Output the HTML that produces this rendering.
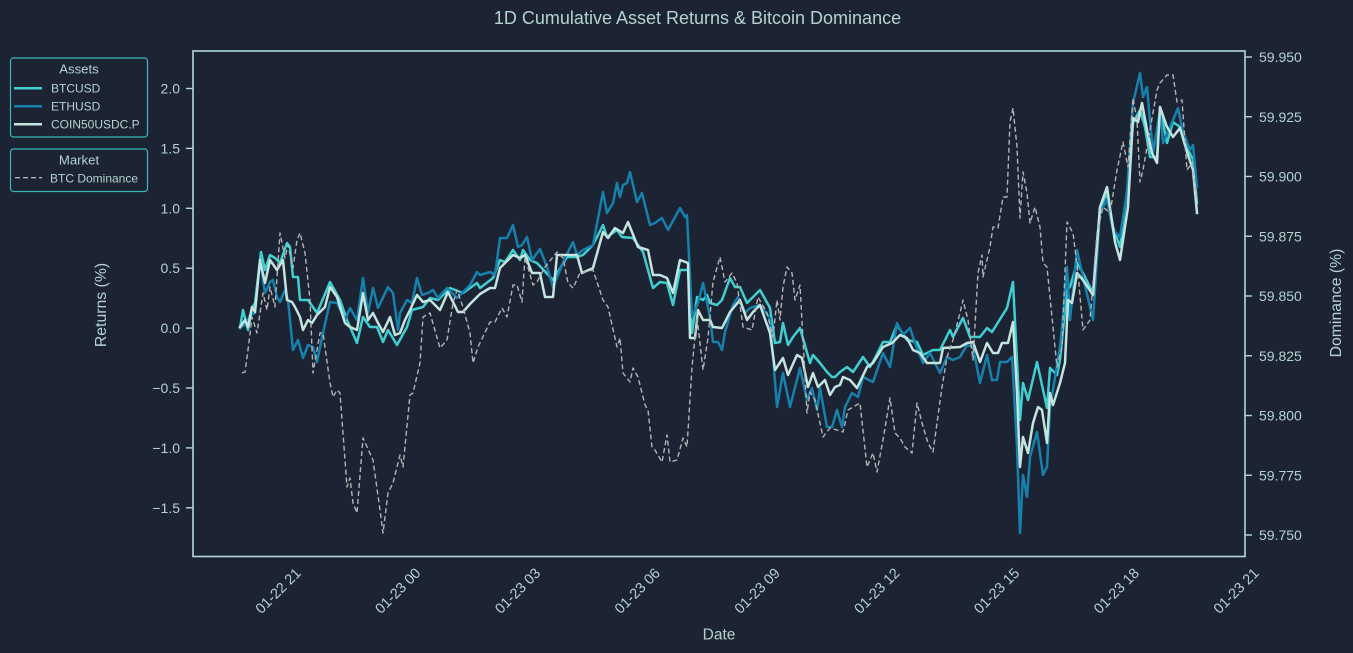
<!DOCTYPE html>
<html><head><meta charset="utf-8"><style>
html,body{margin:0;padding:0;background:#1c2333;}
svg{display:block;}
text{font-family:"Liberation Sans",Arial,sans-serif;fill:#b2d3cf;}
</style></head><body>
<svg width="1353" height="653" viewBox="0 0 1353 653" xmlns="http://www.w3.org/2000/svg">
<rect x="0" y="0" width="1353" height="653" fill="#1c2333"/>
<text x="697.5" y="24" font-size="18" text-anchor="middle">1D Cumulative Asset Returns &amp; Bitcoin Dominance</text>

<!-- series -->
<g fill="none" stroke-linejoin="round" stroke-linecap="square">
<polyline stroke="#3fcfd0" stroke-width="2.5" points="240,328 243,310 248,330 252,308 255,303 261,252 265,270 270,255 275,258 280,263 287,243 290,247 293,277 298,277 300,300 308,300 317,313 330,282 340,300 347,320 357,343 363,317 370,327 377,327 383,342 388,330 397,345 407,327 412,310 423,307 430,298 438,300 450,288 463,293 470,288 477,283 480,288 493,278 500,260 505,262 513,250 520,260 523,250 530,260 537,263 553,280 567,257 577,257 583,255 593,245 603,225 607,237 617,230 622,237 633,238 643,252 653,288 660,282 667,283 673,305 680,270 688,270 692,333 697,297 703,300 707,295 710,303 717,305 722,300 730,278 735,287 740,287 747,303 760,290 770,308 775,343 780,342 783,323 788,345 793,337 800,328 810,363 813,355 820,363 827,372 832,377 835,377 840,372 847,367 853,372 863,357 870,367 875,358 883,342 890,342 897,325 907,340 917,342 923,355 933,350 940,350 950,330 953,337 963,318 970,337 980,337 987,328 992,332 1007,308 1013,282 1020,420 1023,383 1028,400 1037,362 1047,408 1050,368 1057,375 1060,360 1067,290 1070,287 1077,263 1083,273 1093,293 1100,208 1107,193 1113,227 1120,247 1127,192 1133,123 1140,110 1145,127 1150,157 1157,157 1160,107 1167,143 1173,122 1180,127 1187,147 1193,160 1197,203"/>
<polyline stroke="#1681ab" stroke-width="2.5" points="240,328 247,323 250,315 255,313 260,260 265,293 270,282 273,280 277,297 280,302 285,290 288,300 293,350 298,340 303,358 308,345 313,347 317,362 323,333 330,302 337,303 345,320 350,308 357,320 363,278 368,313 373,288 378,308 388,287 393,293 398,330 400,313 407,300 412,303 417,278 422,295 428,293 433,290 438,298 447,288 457,298 470,285 477,272 480,275 490,272 495,275 500,238 507,238 513,225 518,247 522,245 527,237 532,260 540,249 547,267 553,287 565,258 573,242 577,255 583,250 593,245 603,192 607,213 613,203 617,183 620,197 623,185 627,183 630,172 637,202 642,193 650,225 655,223 662,218 668,230 680,208 685,217 687,215 692,317 698,303 703,283 710,317 713,342 718,342 722,350 725,332 733,305 738,297 745,313 750,308 760,305 770,318 777,407 783,373 790,407 800,368 807,400 812,388 817,410 820,388 827,427 832,427 837,410 842,427 845,407 852,393 858,397 863,377 873,382 883,353 890,367 897,323 903,335 910,328 915,343 923,363 930,353 940,373 947,357 953,360 960,357 967,345 973,347 980,383 987,355 992,380 997,380 1000,362 1007,362 1012,357 1017,447 1020,533 1023,475 1027,497 1030,457 1037,432 1043,475 1047,467 1050,408 1060,347 1063,317 1067,267 1070,320 1077,250 1083,277 1093,320 1100,212 1107,200 1113,230 1120,237 1127,192 1133,103 1140,73 1143,97 1147,87 1153,153 1160,110 1163,143 1173,120 1178,108 1183,132 1190,150 1193,145 1197,187"/>
<polyline stroke="#c3e4df" stroke-width="2.5" points="240,327 245,320 248,327 252,307 255,312 260,260 265,283 270,260 277,270 283,260 287,300 292,302 295,307 300,317 303,330 308,320 312,323 317,315 325,307 330,287 337,297 345,323 350,327 357,330 363,293 368,320 373,313 378,323 383,332 390,317 395,335 400,333 405,320 410,310 417,295 423,302 430,300 440,310 448,292 458,312 463,312 470,304 480,294 490,288 495,288 500,268 513,255 520,258 525,255 532,273 540,273 545,297 553,297 557,255 577,255 582,273 593,268 603,232 608,238 615,228 623,233 628,222 638,247 648,250 653,275 660,275 667,278 673,293 680,260 688,263 690,338 695,338 698,310 703,320 710,320 713,327 722,328 730,312 740,300 747,320 753,312 760,305 770,333 775,370 783,358 788,375 797,355 802,358 808,387 813,373 818,387 825,380 830,395 835,387 840,385 843,377 850,380 857,388 867,367 873,363 883,347 892,343 900,335 907,338 913,350 920,353 927,363 940,363 943,348 960,347 967,343 973,342 980,362 987,343 993,353 998,353 1002,343 1008,343 1013,322 1017,393 1020,467 1023,437 1028,453 1033,423 1038,407 1042,410 1047,443 1050,393 1053,405 1060,383 1065,363 1068,300 1072,303 1077,273 1083,280 1093,295 1100,207 1107,187 1115,242 1120,260 1128,207 1133,118 1138,122 1142,103 1147,130 1152,153 1157,163 1160,107 1167,127 1173,137 1180,128 1187,152 1193,170 1197,213"/>
<polyline stroke="#b4b4b4" stroke-width="1.4" stroke-dasharray="5,3" stroke-linecap="butt" points="242,373 245,372 248,350 252,317 257,333 263,293 267,310 270,287 275,307 280,233 285,258 288,245 293,268 297,240 300,233 305,253 310,300 313,373 320,333 323,333 330,383 333,397 337,390 340,393 347,487 350,478 353,503 357,513 363,438 373,460 380,510 383,533 388,493 393,483 400,455 403,467 410,395 413,393 420,363 423,317 430,313 440,348 447,340 453,303 457,290 463,307 470,333 473,363 478,347 490,322 495,322 502,308 507,317 513,285 517,285 522,302 525,257 533,285 537,282 545,267 557,252 563,258 568,283 573,288 580,273 593,270 603,300 608,307 617,347 620,338 623,373 630,382 633,368 638,377 645,405 648,410 652,447 655,450 662,462 667,435 670,462 677,460 683,438 687,447 692,367 697,317 703,370 708,338 713,282 720,257 725,282 732,273 737,283 743,327 752,330 758,297 767,313 773,337 777,300 780,320 783,287 787,267 792,273 795,300 800,285 807,413 810,392 815,400 823,437 830,428 837,430 843,432 848,410 860,403 867,467 873,453 877,472 883,440 890,398 895,433 900,438 905,447 912,453 917,403 922,423 928,443 933,452 942,387 947,357 953,340 960,313 963,300 968,320 973,360 978,273 982,255 983,277 990,247 993,227 998,228 1003,197 1007,197 1010,122 1013,108 1017,147 1020,218 1023,172 1027,193 1030,223 1035,207 1040,227 1043,263 1047,267 1057,367 1062,347 1067,222 1073,233 1078,273 1083,330 1090,320 1097,233 1103,207 1110,213 1117,170 1123,142 1128,167 1133,98 1137,120 1140,182 1143,170 1150,130 1157,90 1160,83 1167,75 1173,75 1177,102 1182,100 1187,170 1192,163 1197,200"/>
</g>

<!-- frame -->
<rect x="193" y="51" width="1052" height="505.5" fill="none" stroke="#b2dad3" stroke-width="1.6"/>

<!-- ticks -->
<g stroke="#b2dad3" stroke-width="1.4">
<line x1="186" y1="88.5" x2="193" y2="88.5"/>
<line x1="186" y1="148.4" x2="193" y2="148.4"/>
<line x1="186" y1="208.3" x2="193" y2="208.3"/>
<line x1="186" y1="268.2" x2="193" y2="268.2"/>
<line x1="186" y1="328.1" x2="193" y2="328.1"/>
<line x1="186" y1="388" x2="193" y2="388"/>
<line x1="186" y1="447.9" x2="193" y2="447.9"/>
<line x1="186" y1="507.8" x2="193" y2="507.8"/>
<line x1="1245" y1="57" x2="1252" y2="57"/>
<line x1="1245" y1="116.75" x2="1252" y2="116.75"/>
<line x1="1245" y1="176.5" x2="1252" y2="176.5"/>
<line x1="1245" y1="236.25" x2="1252" y2="236.25"/>
<line x1="1245" y1="296" x2="1252" y2="296"/>
<line x1="1245" y1="355.75" x2="1252" y2="355.75"/>
<line x1="1245" y1="415.5" x2="1252" y2="415.5"/>
<line x1="1245" y1="475.25" x2="1252" y2="475.25"/>
<line x1="1245" y1="535" x2="1252" y2="535"/>
</g>
<g font-size="14" text-anchor="end">
<text x="180" y="93.5">2.0</text>
<text x="180" y="153.4">1.5</text>
<text x="180" y="213.3">1.0</text>
<text x="180" y="273.2">0.5</text>
<text x="180" y="333.1">0.0</text>
<text x="180" y="393">−0.5</text>
<text x="180" y="452.9">−1.0</text>
<text x="180" y="512.8">−1.5</text>
</g>
<g font-size="14" text-anchor="start">
<text x="1259" y="62">59.950</text>
<text x="1259" y="121.75">59.925</text>
<text x="1259" y="181.5">59.900</text>
<text x="1259" y="241.25">59.875</text>
<text x="1259" y="301">59.850</text>
<text x="1259" y="360.75">59.825</text>
<text x="1259" y="420.5">59.800</text>
<text x="1259" y="480.25">59.775</text>
<text x="1259" y="540">59.750</text>
</g>

<!-- x tick labels -->
<g font-size="14.5" text-anchor="end">
<text transform="translate(301.8,574) rotate(-45)">01-22 21</text>
<text transform="translate(421.5,574) rotate(-45)">01-23 00</text>
<text transform="translate(541.3,574) rotate(-45)">01-23 03</text>
<text transform="translate(661,574) rotate(-45)">01-23 06</text>
<text transform="translate(780.8,574) rotate(-45)">01-23 09</text>
<text transform="translate(900.6,574) rotate(-45)">01-23 12</text>
<text transform="translate(1020.3,574) rotate(-45)">01-23 15</text>
<text transform="translate(1140.1,574) rotate(-45)">01-23 18</text>
<text transform="translate(1259.8,574) rotate(-45)">01-23 21</text>
</g>

<!-- axis labels -->
<text x="719" y="639.5" font-size="15.5" text-anchor="middle">Date</text>
<text transform="translate(106,305) rotate(-90)" font-size="15.8" text-anchor="middle">Returns (%)</text>
<text transform="translate(1341,303) rotate(-90)" font-size="15.8" text-anchor="middle">Dominance (%)</text>

<!-- legends -->
<rect x="10.5" y="58" width="137" height="79" rx="3" ry="3" fill="#1c2333" stroke="#38b9be" stroke-width="1.2"/>
<text x="79" y="73.5" font-size="13.2" text-anchor="middle">Assets</text>
<line x1="14" y1="88.3" x2="42" y2="88.3" stroke="#3fcfd0" stroke-width="2.5"/>
<text x="51" y="92.3" font-size="12">BTCUSD</text>
<line x1="14" y1="106.3" x2="42" y2="106.3" stroke="#1681ab" stroke-width="2.5"/>
<text x="51" y="110.5" font-size="12">ETHUSD</text>
<line x1="14" y1="124.3" x2="42" y2="124.3" stroke="#c3e4df" stroke-width="2.5"/>
<text x="51" y="128.5" font-size="12">COIN50USDC.P</text>

<rect x="10.5" y="149" width="137" height="42.5" rx="3" ry="3" fill="#1c2333" stroke="#38b9be" stroke-width="1.2"/>
<text x="79" y="164.3" font-size="13.2" text-anchor="middle">Market</text>
<line x1="15" y1="177.7" x2="42" y2="177.7" stroke="#b4b4b4" stroke-width="1.4" stroke-dasharray="5,3"/>
<text x="50" y="182.5" font-size="12">BTC Dominance</text>
</svg>
</body></html>
